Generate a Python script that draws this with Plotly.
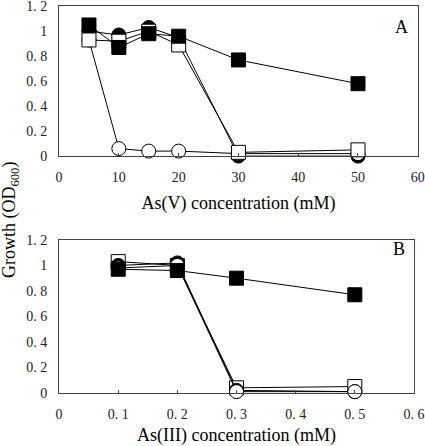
import plotly.graph_objects as go

# Panel A: As(V)
xA = [5, 10, 15, 20, 30, 50]
A_filled_sq = [1.05, 0.87, 0.98, 0.96, 0.77, 0.58]
A_filled_ci = [1.00, 0.97, 1.03, 0.95, 0.00, 0.00]
A_open_sq = [0.93, 0.92, 1.00, 0.89, 0.03, 0.05]
A_open_ci = [0.93, 0.06, 0.04, 0.04, 0.02, 0.02]

# Panel B: As(III)
xB = [0.1, 0.2, 0.3, 0.5]
B_filled_sq = [0.97, 0.96, 0.90, 0.77]
B_filled_ci = [1.00, 1.02, 0.02, 0.01]
B_open_sq = [1.03, 1.00, 0.04, 0.05]
B_open_ci = [0.98, 1.00, 0.01, 0.01]

xA_ticks = [0, 10, 20, 30, 40, 50, 60]
xA_ticktext = ["0", "10", "20", "30", "40", "50", "60"]
xB_ticks = [0, 0.1, 0.2, 0.3, 0.4, 0.5, 0.6]
xB_ticktext = ["0", "0. 1", "0. 2", "0. 3", "0. 4", "0. 5", "0. 6"]
y_ticks = [0, 0.2, 0.4, 0.6, 0.8, 1.0, 1.2]
y_ticktext = ["0", "0. 2", "0. 4", "0. 6", "0. 8", "1", "1. 2"]

FONT = "Liberation Serif"

styles = {
    "fsq": dict(symbol="square", color="black", size=14),
    "fci": dict(symbol="circle", color="black", size=14),
    "osq": dict(symbol="square", color="white", size=14),
    "oci": dict(symbol="circle", color="white", size=14),
}

fig = go.Figure()

def add(x, y, key, xa, ya):
    s = styles[key]
    fig.add_trace(go.Scatter(
        x=x, y=y, mode="lines+markers", xaxis=xa, yaxis=ya, showlegend=False,
        cliponaxis=False,
        line=dict(color="black", width=1),
        marker=dict(symbol=s["symbol"], color=s["color"], size=s["size"],
                    line=dict(color="black", width=1)),
    ))

add(xA, A_filled_ci, "fci", "x", "y")
add(xA, A_open_ci, "oci", "x", "y")
add(xA, A_open_sq, "osq", "x", "y")
add(xA, A_filled_sq, "fsq", "x", "y")

add(xB, B_open_sq, "osq", "x2", "y2")
add(xB, B_filled_ci, "fci", "x2", "y2")
add(xB, B_open_ci, "oci", "x2", "y2")
add(xB, B_filled_sq, "fsq", "x2", "y2")

axcommon = dict(showgrid=False, zeroline=False, showline=True, linecolor="#444",
                linewidth=1, mirror=True, automargin=False, ticklabeloverflow="allow",
                tickfont=dict(family=FONT, size=14, color="#222"))

fig.update_layout(
    width=425, height=446,
    margin=dict(l=0, r=0, t=0, b=0),
    paper_bgcolor="white", plot_bgcolor="white",
    font=dict(family=FONT, color="black"),
    xaxis=dict(domain=[0.139, 0.983], range=[0, 60], tickvals=xA_ticks, ticktext=xA_ticktext,
               ticks="inside", ticklen=3, tickcolor="#444", anchor="y", ticklabelstandoff=8,
               title=dict(text="As(V) concentration (mM)", font=dict(family=FONT, size=18), standoff=12),
               **axcommon),
    yaxis=dict(domain=[0.650, 0.986], range=[0, 1.2], tickvals=y_ticks, ticktext=y_ticktext,
               ticks="", anchor="x", ticklabelstandoff=8, **axcommon),
    xaxis2=dict(domain=[0.139, 0.974], range=[0, 0.6], tickvals=xB_ticks, ticktext=xB_ticktext,
                ticks="inside", ticklen=3, tickcolor="#444", anchor="y2", ticklabelstandoff=8,
                title=dict(text="As(III) concentration (mM)", font=dict(family=FONT, size=18), standoff=12),
                **axcommon),
    yaxis2=dict(domain=[0.119, 0.462], range=[0, 1.2], tickvals=y_ticks, ticktext=y_ticktext,
                ticks="", anchor="x2", ticklabelstandoff=8, **axcommon),
    annotations=[
        dict(text="Growth (OD<sub>600</sub>)", x=10/425, y=1-220/446, xref="paper", yref="paper",
             xanchor="center", yanchor="middle",
             textangle=-90, showarrow=False, font=dict(family=FONT, size=18)),
        dict(text="A", x=410/425, y=1-15/446, xref="paper", yref="paper",
             showarrow=False, font=dict(family=FONT, size=18)),
        dict(text="B", x=407/425, y=1-249/446, xref="paper", yref="paper",
             showarrow=False, font=dict(family=FONT, size=18)),
    ],
)

fig.write_html("out.html", post_script="document.body.style.margin='0';",
               config={"displayModeBar": False})
